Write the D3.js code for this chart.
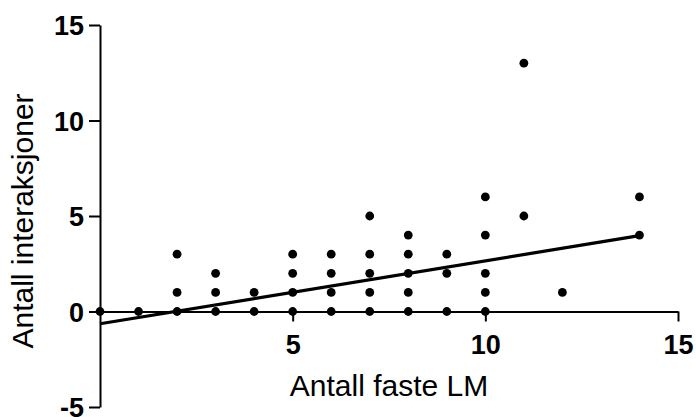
<!DOCTYPE html>
<html>
<head>
<meta charset="utf-8">
<script src="https://cdn.jsdelivr.net/npm/d3@7"></script>
<style>
  body { margin: 0; background: #fff; }
  svg text { font-family: "Liberation Sans", Arial, sans-serif; }
</style>
</head>
<body>
<svg width="696" height="417"></svg>
<script>
// number of fixed LM vs number of interactions
var lmX = [0, 1, 2, 2, 2, 3, 3, 3, 4, 4, 5, 5, 5, 5, 6, 6, 6, 6,
           7, 7, 7, 7, 7, 8, 8, 8, 8, 8, 9, 9, 9, 10, 10, 10, 10, 10,
           11, 11, 12, 14, 14];
var interY = [0, 0, 0, 1, 3, 0, 1, 2, 0, 1, 0, 1, 2, 3, 0, 1, 2, 3,
              0, 1, 2, 3, 5, 0, 1, 2, 3, 4, 0, 2, 3, 0, 1, 2, 4, 6,
              5, 13, 1, 4, 6];
// regression line end points
var fitX = [0, 14];
var fitY = [-0.64, 3.97];

var xTicks = [5, 10, 15];
var yTicks = [-5, 0, 5, 10, 15];

var svg = d3.select("svg");

var x = d3.scaleLinear().domain([0, 15]).range([100, 678]);
var y = d3.scaleLinear().domain([-5, 15]).range([407, 25]);

// y axis
var yAxis = svg.append("g")
    .attr("transform", "translate(" + x(0) + ",0)")
    .call(d3.axisLeft(y).tickValues(yTicks).tickSize(11).tickSizeOuter(0)
        .tickPadding(5).tickFormat(function(d){ return String(d); }));

// x axis along y = 0
var xAxis = svg.append("g")
    .attr("transform", "translate(0," + y(0) + ")")
    .call(d3.axisBottom(x).tickValues(xTicks).tickSize(10).tickSizeOuter(0)
        .tickPadding(13).tickFormat(function(d){ return String(d); }));

[yAxis, xAxis].forEach(function(g){
    g.select(".domain").attr("stroke", "#000").attr("stroke-width", 2);
    g.selectAll(".tick line").attr("stroke", "#000").attr("stroke-width", 2);
    g.selectAll(".tick text")
        .attr("fill", "#000")
        .attr("font-size", "27px")
        .attr("font-weight", "bold")
        .style("font-family", "'Liberation Sans', Arial, sans-serif");
});
yAxis.selectAll(".tick text").attr("dy", "0.36em");

// regression line
svg.append("line")
    .attr("x1", x(fitX[0])).attr("y1", y(fitY[0]))
    .attr("x2", x(fitX[1])).attr("y2", y(fitY[1]))
    .attr("stroke", "#000")
    .attr("stroke-width", 3.2);

// points
svg.selectAll("circle.pt")
    .data(lmX.map(function(d, i){ return [d, interY[i]]; }))
    .enter()
    .append("circle")
    .attr("class", "pt")
    .attr("cx", function(d){ return x(d[0]); })
    .attr("cy", function(d){ return y(d[1]); })
    .attr("r", 4.4)
    .attr("fill", "#000");

// axis titles
svg.append("text")
    .attr("x", x(7.5))
    .attr("y", 396)
    .attr("text-anchor", "middle")
    .attr("font-size", "30px")
    .text("Antall faste LM");

svg.append("text")
    .attr("transform", "translate(33," + 221 + ") rotate(-90)")
    .attr("text-anchor", "middle")
    .attr("font-size", "30px")
    .text("Antall interaksjoner");
</script>
</body>
</html>
